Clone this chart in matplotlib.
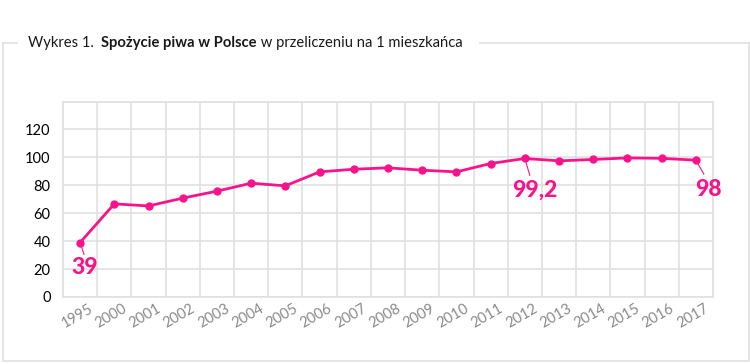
"""
Wykres 1. Spożycie piwa w Polsce w przeliczeniu na 1 mieszkańca.
"""
import matplotlib
matplotlib.use("Agg")
import matplotlib.pyplot as plt
import matplotlib.transforms as mtransforms
from matplotlib.lines import Line2D
import numpy as np

years = ["1995", "2000", "2001", "2002", "2003", "2004", "2005", "2006", "2007",
         "2008", "2009", "2010", "2011", "2012", "2013", "2014", "2015", "2016", "2017"]
consumption = [39, 66.7, 65.2, 70.8, 75.8, 81.5, 79.6, 89.6, 91.5,
               92.5, 90.8, 89.6, 95.6, 99.2, 97.5, 98.5, 99.6, 99.3, 98]
y_ticks = [0, 20, 40, 60, 80, 100, 120]

# etykiety wartości: (indeks, tekst, przesunięcie tekstu, koniec kreski) w px
labels = [(0, "39", (5, -25), (4, -12)),
          (13, "99,2", (10, -32), (5, -17)),
          (18, "98", (12, -29), (8, -14))]

PINK = "#F7148A"
GRID = "#E0E0E0"

plt.rcParams["font.family"] = ["Lato", "DejaVu Sans"]

W, H = 750, 364
fig = plt.figure(figsize=(W / 100, H / 100), dpi=100)
ax = fig.add_axes([63 / W, 1 - 297 / H, 650 / W, (297 - 101.5) / H])

x = np.arange(len(years))
ax.plot(x, consumption, color=PINK, lw=2, marker="o", ms=5, zorder=3)

ax.set_xlim(-0.5, len(years) - 0.5)
ax.set_ylim(0, 140)
ax.set_yticks(y_ticks)
ax.set_xticks(x)
ax.set_xticks(np.arange(-0.5, len(years)), minor=True)
ax.grid(False)
ax.grid(which="minor", axis="x", color=GRID, lw=1.2)
for v in range(0, 141, 20):
    ax.axhline(v, color=GRID, lw=1.2, zorder=1)
for s in ax.spines.values():
    s.set_color(GRID)
    s.set_linewidth(1.2)
ax.tick_params(which="both", length=0)
ax.tick_params(axis="y", labelsize=10.5, pad=9, labelcolor="black")
ax.set_xticklabels(years, rotation=30, ha="right", va="top",
                   rotation_mode="anchor", fontsize=10.5, color="#8A8A8A")
offset = mtransforms.ScaledTranslation(8 / 100, 0, fig.dpi_scale_trans)
for lab in ax.get_xticklabels():
    lab.set_transform(lab.get_transform() + offset)

for i, txt, toff, loff in labels:
    ax.annotate("", xy=(i, consumption[i]), xytext=loff, textcoords="offset pixels",
                arrowprops=dict(arrowstyle="-", color=PINK, lw=0.8, shrinkA=0, shrinkB=0))
    ax.annotate(txt, xy=(i, consumption[i]), xytext=toff, textcoords="offset pixels",
                ha="center", va="center", fontsize=16.5, fontweight=900, color=PINK)

# tytuł złożony z kawałków
fig.canvas.draw()
r = fig.canvas.get_renderer()
xpos = 28
pieces = [("Wykres 1.  ", "normal"), ("Spożycie piwa w Polsce", "bold"),
          (" w przeliczeniu na 1 mieszkańca", "normal")]
for txt, wt in pieces:
    t = fig.text(xpos / W, 1 - 43.5 / H, txt, fontsize=10.6, fontweight=wt,
                 va="center", ha="left", color="#1A1A1A")
    bb = t.get_window_extent(r)
    xpos += bb.width
title_end = xpos

# ramka wokół wykresu
def fline(xs, ys):
    fig.add_artist(Line2D([a / W for a in xs], [1 - b / H for b in ys],
                          color="#E3E3E3", lw=1.3, transform=fig.transFigure))

fline([3, 3, 749, 749], [43, 361, 361, 43])
fline([3, 17], [43, 43])
fline([title_end + 17, 749], [43, 43])

fig.savefig("out.png", dpi=100)
